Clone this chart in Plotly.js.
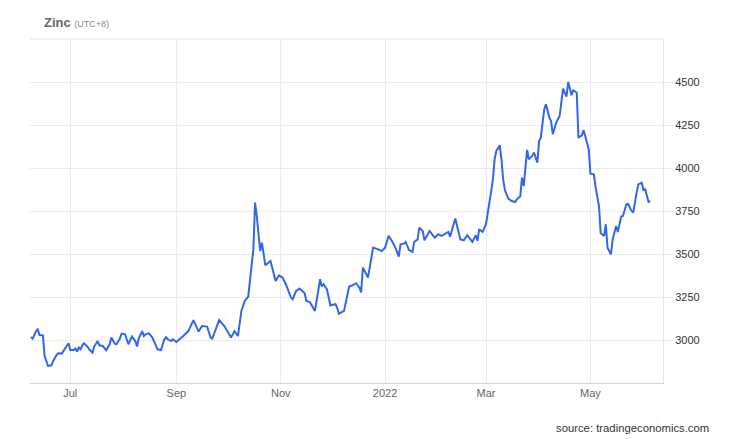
<!DOCTYPE html>
<html>
<head>
<meta charset="utf-8">
<script src="https://cdn.plot.ly/plotly-3.0.1.min.js"></script>
<style>
html,body{margin:0;padding:0;background:#fff;}
#chart{width:740px;height:439px;}
</style>
</head>
<body>
<div id="chart"></div>
<script>
const dates = [
"2021-06-08","2021-06-09","2021-06-11","2021-06-12","2021-06-13","2021-06-15","2021-06-16","2021-06-18","2021-06-20","2021-06-21",
"2021-06-23","2021-06-24","2021-06-26","2021-06-28","2021-06-30","2021-07-01","2021-07-03","2021-07-04","2021-07-05","2021-07-06",
"2021-07-07","2021-07-08","2021-07-09","2021-07-11","2021-07-12","2021-07-14","2021-07-15","2021-07-17","2021-07-18","2021-07-20",
"2021-07-21","2021-07-22","2021-07-24","2021-07-25","2021-07-27","2021-07-28","2021-07-30","2021-07-31","2021-08-02","2021-08-03",
"2021-08-04","2021-08-06","2021-08-08","2021-08-09","2021-08-10","2021-08-12","2021-08-13","2021-08-14","2021-08-16","2021-08-18",
"2021-08-20","2021-08-21","2021-08-23","2021-08-25","2021-08-26","2021-08-27","2021-08-29","2021-08-30","2021-09-01","2021-09-03",
"2021-09-05","2021-09-08","2021-09-11","2021-09-14","2021-09-16","2021-09-19","2021-09-21","2021-09-22","2021-09-26","2021-09-29",
"2021-10-03","2021-10-05","2021-10-07","2021-10-09","2021-10-11","2021-10-13","2021-10-14","2021-10-16","2021-10-17","2021-10-18",
"2021-10-20","2021-10-21","2021-10-23","2021-10-26","2021-10-27","2021-10-29","2021-10-31","2021-11-02","2021-11-04","2021-11-07",
"2021-11-08","2021-11-10","2021-11-12","2021-11-15","2021-11-16","2021-11-18","2021-11-21","2021-11-24","2021-11-25","2021-11-26",
"2021-11-28","2021-11-30","2021-12-03","2021-12-04","2021-12-05","2021-12-08","2021-12-11","2021-12-13","2021-12-15","2021-12-17",
"2021-12-18","2021-12-19","2021-12-22","2021-12-25","2021-12-28","2021-12-30","2022-01-01","2022-01-03","2022-01-05","2022-01-07",
"2022-01-09","2022-01-10","2022-01-12","2022-01-13","2022-01-15","2022-01-17","2022-01-18","2022-01-20","2022-01-21","2022-01-23",
"2022-01-24","2022-01-27","2022-01-30","2022-02-01","2022-02-03","2022-02-05","2022-02-07","2022-02-08","2022-02-11","2022-02-14",
"2022-02-16","2022-02-18","2022-02-20","2022-02-21","2022-02-23","2022-02-24","2022-02-25","2022-02-27","2022-03-01","2022-03-03",
"2022-03-04","2022-03-05","2022-03-06","2022-03-07","2022-03-09","2022-03-10","2022-03-11","2022-03-12","2022-03-14","2022-03-16",
"2022-03-18","2022-03-19","2022-03-21","2022-03-22","2022-03-23","2022-03-25","2022-03-26","2022-03-28","2022-03-29","2022-03-31",
"2022-04-01","2022-04-02","2022-04-04","2022-04-05","2022-04-07","2022-04-08","2022-04-09","2022-04-11","2022-04-13","2022-04-15",
"2022-04-17","2022-04-18","2022-04-20","2022-04-21","2022-04-23","2022-04-24","2022-04-26","2022-04-27","2022-04-29","2022-04-30",
"2022-05-01","2022-05-03","2022-05-04","2022-05-06","2022-05-07","2022-05-09","2022-05-10","2022-05-11","2022-05-13","2022-05-14",
"2022-05-16","2022-05-17","2022-05-19","2022-05-20","2022-05-22","2022-05-23","2022-05-25","2022-05-26","2022-05-28","2022-05-29",
"2022-05-31","2022-06-01","2022-06-02","2022-06-04","2022-06-05"
];
const zinc = [
3017,3008,3052,3062,3029,3027,2907,2849,2853,2878,
2913,2923,2921,2950,2981,2942,2942,2950,2933,2956,
2946,2969,2981,2962,2946,2927,2962,2994,2969,2965,
2950,2940,2975,3014,2979,2975,3008,3037,3033,3000,
2975,3020,2994,2962,3008,3052,3023,3033,3039,3014,
2975,2946,2942,3004,3017,3004,2994,3004,2988,3004,
3023,3052,3116,3049,3081,3078,3014,3008,3116,3081,
3014,3052,3023,3169,3227,3252,3353,3527,3799,3721,
3517,3566,3434,3459,3421,3343,3376,3363,3324,3247,
3237,3285,3299,3272,3227,3221,3169,3353,3311,3324,
3295,3202,3208,3188,3153,3169,3311,3318,3330,3305,
3276,3421,3363,3537,3527,3517,3537,3605,3576,3537,
3485,3556,3560,3570,3523,3512,3570,3585,3653,3634,
3580,3634,3595,3615,3605,3615,3628,3601,3706,3585,
3580,3609,3585,3570,3609,3576,3644,3628,3675,3790,
3866,3934,4051,4099,4132,4051,3934,3872,3822,3808,
3802,3818,3835,3944,3895,4105,4051,4070,4090,4031,
4157,4176,4341,4370,4293,4273,4196,4264,4302,4462,
4415,4500,4423,4452,4438,4176,4190,4221,4138,4109,
3967,3963,3890,3779,3622,3605,3673,3537,3498,3585,
3663,3628,3718,3721,3789,3791,3750,3741,3857,3905,
3915,3872,3876,3802,3808
];
const xTickVals = ["2021-07-01","2021-09-01","2021-11-01","2022-01-01","2022-03-01","2022-05-01"];
const xTickText = ["Jul","Sep","Nov","2022","Mar","May"];
const yTickVals = [3000,3250,3500,3750,4000,4250,4500];

const FONT = "Liberation Sans, Arial, Helvetica, sans-serif";
const grid = "#ebebeb";

const trace = {
  x: dates, y: zinc, type: "scatter", mode: "lines",
  line: {color: "#3467e8", width: 2},
  hoverinfo: "x+y"
};

const layout = {
  width: 740, height: 439,
  margin: {l: 30, r: 77, t: 39, b: 56},
  paper_bgcolor: "#fff", plot_bgcolor: "#fff",
  showlegend: false,
  font: {family: FONT, size: 11, color: "#333"},
  title: {
    text: "Zinc <span style='font-size:9px;font-weight:normal;color:#888'>(UTC+8)</span>",
    font: {family: FONT, size: 13, color: "#666", weight: 600},
    xref: "container", yref: "container",
    x: 44/740, xanchor: "left", y: 1 - 22/439, yanchor: "middle"
  },
  xaxis: {
    type: "date",
    range: ["2021-06-07 11:00", "2022-06-12 10:00"],
    tickvals: xTickVals, ticktext: xTickText,
    showgrid: true, gridcolor: grid, gridwidth: 1,
    showline: true, linecolor: "#ccd6eb", linewidth: 1,
    ticks: "", tickfont: {family: FONT, size: 11, color: "#666"},
    zeroline: false, fixedrange: true
  },
  yaxis: {
    side: "right",
    range: [2750, 4750],
    tickvals: yTickVals,
    showgrid: true, gridcolor: grid, gridwidth: 1,
    showline: true, linecolor: "#e6e6e6", linewidth: 1,
    ticks: "outside", ticklen: 9, tickcolor: grid, tickwidth: 1,
    tickfont: {family: FONT, size: 11, color: "#333"},
    zeroline: false, fixedrange: true
  },
  shapes: [
    {type: "line", xref: "paper", yref: "paper", x0: 0, x1: 1, y0: 1, y1: 1,
     line: {color: "#e6e6e6", width: 1}}
  ],
  annotations: [
    {text: "source: tradingeconomics.com", xref: "paper", yref: "paper",
     x: (711-30)/633, xanchor: "right", y: (383-428)/344, yanchor: "middle",
     showarrow: false, font: {family: FONT, size: 11.3, color: "#333"}}
  ]
};

Plotly.newPlot("chart", [trace], layout, {displayModeBar: false, staticPlot: true});
</script>
</body>
</html>
